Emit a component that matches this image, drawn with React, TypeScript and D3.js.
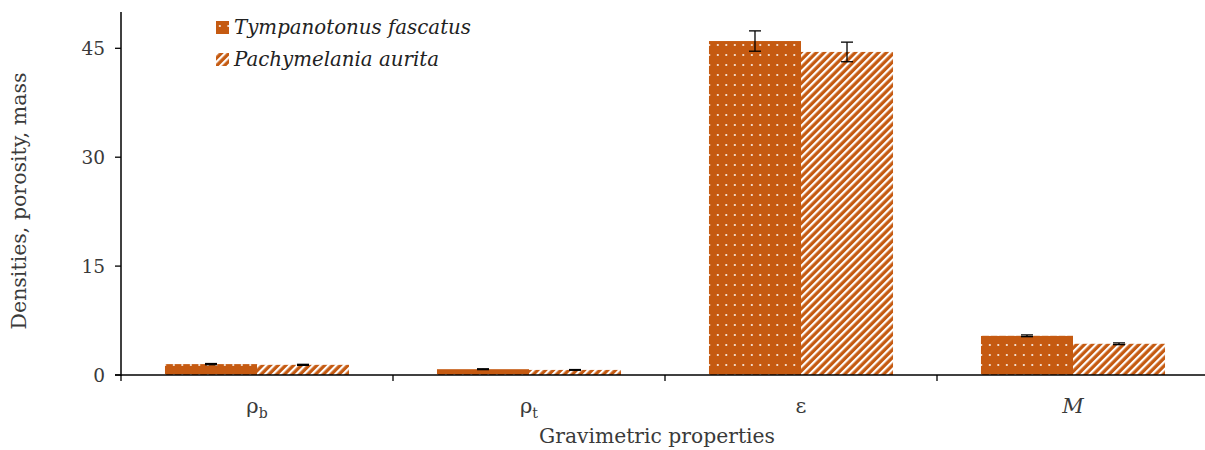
import React from "react";
import * as d3 from "d3";

const categories = ["rb", "rt", "e", "M"];
const seriesNames = ["Tympanotonus fascatus", "Pachymelania aurita"];
const tympValues = [1.5, 0.8, 46.0, 5.4];
const tympErrors = [0.08, 0.06, 1.4, 0.12];
const pachyValues = [1.4, 0.7, 44.5, 4.3];
const pachyErrors = [0.07, 0.05, 1.35, 0.12];
const yTicks = [0, 15, 30, 45];

const W = 1205;
const H = 450;
const margin = { left: 121, right: -4, top: 12, bottom: 75 };
const orange = "#C55A11";
const font = "'DejaVu Serif', serif";

function CatLabel({ cat }: { cat: string }) {
  if (cat === "rb") return <tspan>ρ<tspan fontSize={14} dy={5}>b</tspan></tspan>;
  if (cat === "rt") return <tspan>ρ<tspan fontSize={14} dy={5}>t</tspan></tspan>;
  if (cat === "e") return <tspan>ε</tspan>;
  return <tspan fontStyle="italic">M</tspan>;
}

export default function App() {
  const x0 = d3.scaleBand<string>()
    .domain(categories)
    .range([margin.left, W - margin.right])
    .padding(0);
  const x1 = d3.scaleBand<string>()
    .domain(seriesNames)
    .range([0, x0.bandwidth()])
    .paddingInner(0)
    .paddingOuter(0.478);
  const y = d3.scaleLinear().domain([0, 50]).range([H - margin.bottom, margin.top]);

  const series = [
    { name: seriesNames[0], values: tympValues, errors: tympErrors, fill: "url(#dots)" },
    { name: seriesNames[1], values: pachyValues, errors: pachyErrors, fill: "url(#stripes)" },
  ];
  const y0 = y(0);
  const capW = 6;

  return (
    <svg width={W} height={H} style={{ position: "absolute", left: 0, top: 0, fontFamily: font }}>
      <defs>
        <pattern id="dots" width={8.5} height={10} patternUnits="userSpaceOnUse">
          <rect width={8.5} height={10} fill={orange} />
          <rect x={3} y={4} width={1.6} height={2} fill="#fff" opacity={0.9} />
        </pattern>
        <pattern id="stripes" width={5.5} height={5.5} patternUnits="userSpaceOnUse" patternTransform="rotate(45)">
          <rect width={5.5} height={5.5} fill={orange} />
          <rect x={0} y={0} width={2.2} height={5.5} fill="#fff" />
        </pattern>
      </defs>

      {series.map((s) =>
        categories.map((c, i) => {
          const bx = (x0(c) ?? 0) + (x1(s.name) ?? 0);
          const bw = x1.bandwidth();
          const top = y(s.values[i]);
          const cx = bx + bw / 2;
          const eTop = y(s.values[i] + s.errors[i]);
          const eBot = y(s.values[i] - s.errors[i]);
          return (
            <g key={s.name + c}>
              <rect x={bx} y={top} width={bw} height={y0 - top} fill={s.fill} />
              <line x1={cx} x2={cx} y1={eTop} y2={eBot} stroke="#000" strokeWidth={1.3} />
              <line x1={cx - capW} x2={cx + capW} y1={eTop} y2={eTop} stroke="#000" strokeWidth={1.3} />
              <line x1={cx - capW} x2={cx + capW} y1={eBot} y2={eBot} stroke="#000" strokeWidth={1.3} />
            </g>
          );
        })
      )}

      {/* y axis */}
      <line x1={margin.left} x2={margin.left} y1={margin.top} y2={y0 + 1} stroke="#000" strokeWidth={1.5} />
      {yTicks.map((t) => (
        <g key={t}>
          <line x1={margin.left - 6} x2={margin.left} y1={y(t)} y2={y(t)} stroke="#000" strokeWidth={1.3} />
          <text x={margin.left - 16} y={y(t)} dy="0.36em" textAnchor="end" fontSize={18.5} fill="#3a3a3a">
            {t}
          </text>
        </g>
      ))}

      {/* x axis */}
      <line x1={margin.left - 6} x2={W} y1={y0} y2={y0} stroke="#000" strokeWidth={1.5} />
      {categories.map((c) => (
        <line key={"t" + c} x1={x0(c)} x2={x0(c)} y1={y0} y2={y0 + 6} stroke="#000" strokeWidth={1.3} />
      ))}
      {categories.map((c) => (
        <text key={"l" + c} x={(x0(c) ?? 0) + x0.bandwidth() / 2} y={413} textAnchor="middle" fontSize={21} fill="#3a3a3a">
          <CatLabel cat={c} />
        </text>
      ))}

      <text x={657} y={443} textAnchor="middle" fontSize={20.3} fill="#3a3a3a">Gravimetric properties</text>
      <text transform={`translate(26,201) rotate(-90)`} textAnchor="middle" fontSize={20.5} fill="#3a3a3a">
        Densities, porosity, mass
      </text>

      {/* legend */}
      {series.map((s, i) => (
        <g key={"leg" + s.name} transform={`translate(216,${21 + i * 32})`}>
          <rect x={0} y={0} width={13} height={13} fill={s.fill} />
          <text x={18} y={13} fontSize={19.8} fontStyle="italic" fill="#222">{s.name}</text>
        </g>
      ))}
    </svg>
  );
}
